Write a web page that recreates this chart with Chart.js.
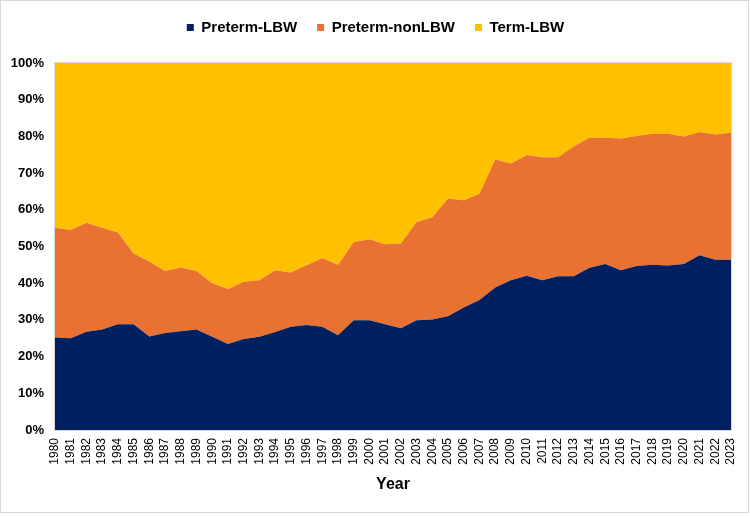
<!DOCTYPE html>
<html>
<head>
<meta charset="utf-8">
<script src="https://cdn.jsdelivr.net/npm/chart.js@4.4.1/dist/chart.umd.min.js"></script>
<style>
  html, body { margin: 0; padding: 0; background: #fff; }
  #wrap { width: 750px; height: 516px; position: relative; }
</style>
</head>
<body>
<div id="wrap"><canvas id="lbw-chart" width="750" height="516"></canvas></div>
<script>
const years = [];
for (let y = 1980; y <= 2023; y += 1) years.push(String(y));

// shares of each group, percent
const pretermLBW = [25.2, 25.0, 26.8, 27.4, 28.8, 28.8, 25.5, 26.4, 26.9, 27.4,
  25.4, 23.4, 24.8, 25.4, 26.7, 28.1, 28.6, 28.1, 25.8, 29.9,
  29.9, 28.8, 27.7, 29.9, 30.1, 31.0, 33.4, 35.4, 38.8, 40.8,
  42.0, 40.8, 41.9, 41.9, 44.2, 45.2, 43.5, 44.7, 45.0, 44.8,
  45.2, 47.6, 46.4, 46.4];
const pretermNonLBW = [29.9, 29.5, 29.7, 27.7, 25.0, 19.3, 20.4, 16.9, 17.4, 15.9,
  14.6, 15.0, 15.6, 15.4, 16.8, 14.8, 16.3, 18.7, 19.2, 21.3,
  22.1, 21.8, 23.1, 26.8, 27.9, 32.1, 29.2, 29.0, 34.9, 31.8,
  32.9, 33.5, 32.4, 35.4, 35.4, 34.4, 35.9, 35.4, 35.7, 35.9,
  34.8, 33.6, 34.1, 34.6];
const termLBW = pretermLBW.map((v, i) => +(100 - v - pretermNonLBW[i]).toFixed(1));
const yTicks = [0, 10, 20, 30, 40, 50, 60, 70, 80, 90, 100];

// extra room under the legend, and centre it on the whole canvas
const legendGap = {
  id: 'legendGap',
  beforeInit(chart) {
    const fit = chart.legend.fit;
    chart.legend.fit = function () {
      fit.bind(chart.legend)();
      this.height += 18;
    };
  },
  afterLayout(chart) {
    chart.legend.left = 20;
  }
};

const frame = {
  id: 'frame',
  afterDraw(chart) {
    const { ctx } = chart;
    ctx.save();
    ctx.strokeStyle = '#d9d9d9';
    ctx.lineWidth = 1;
    ctx.strokeRect(0.5, 0.5, 748, 512);
    const a = chart.chartArea;
    ctx.strokeRect(a.left - 0.5, a.top - 0.5, a.right - a.left + 1, a.bottom - a.top + 1);
    ctx.restore();
  }
};

new Chart(document.getElementById('lbw-chart'), {
  type: 'line',
  data: {
    labels: years,
    datasets: [
      { label: 'Preterm-LBW', data: pretermLBW, backgroundColor: '#002060', borderColor: '#002060', fill: 'origin' },
      { label: 'Preterm-nonLBW', data: pretermNonLBW, backgroundColor: '#E97132', borderColor: '#E97132', fill: '-1' },
      { label: 'Term-LBW', data: termLBW, backgroundColor: '#FFC000', borderColor: '#FFC000', fill: '-1' }
    ]
  },
  options: {
    responsive: false,
    animation: false,
    elements: {
      point: { radius: 0, hoverRadius: 0 },
      line: { borderWidth: 0, tension: 0 }
    },
    layout: { padding: { left: 0, right: 19, top: 0, bottom: 22 } },
    plugins: {
      legend: {
        position: 'top',
        labels: {
          color: '#000',
          boxWidth: 7,
          boxHeight: 7,
          padding: 20,
          font: { family: 'Liberation Sans', size: 15, weight: 'bold' }
        }
      },
      tooltip: { enabled: false }
    },
    scales: {
      x: {
        offset: false,
        grid: { display: false },
        border: { display: false },
        ticks: {
          autoSkip: false,
          maxRotation: 90,
          minRotation: 90,
          color: '#000',
          padding: 0,
          font: { family: 'Liberation Sans', size: 12 }
        },
        title: {
          display: true,
          text: 'Year',
          color: '#000',
          padding: { top: 2, bottom: 0 },
          font: { family: 'Liberation Sans', size: 16, weight: 'bold' }
        },
        afterFit(scale) { scale.height = 64; }
      },
      y: {
        stacked: true,
        min: 0,
        max: 100,
        grid: { display: false },
        border: { display: false },
        afterBuildTicks(scale) { scale.ticks = yTicks.map(v => ({ value: v })); },
        afterFit(scale) { scale.width = 55; },
        ticks: {
          color: '#000',
          padding: 3,
          font: { family: 'Liberation Sans', size: 13, weight: 'bold' },
          callback: v => v + '%'
        }
      }
    }
  },
  plugins: [legendGap, frame]
});
</script>
</body>
</html>
